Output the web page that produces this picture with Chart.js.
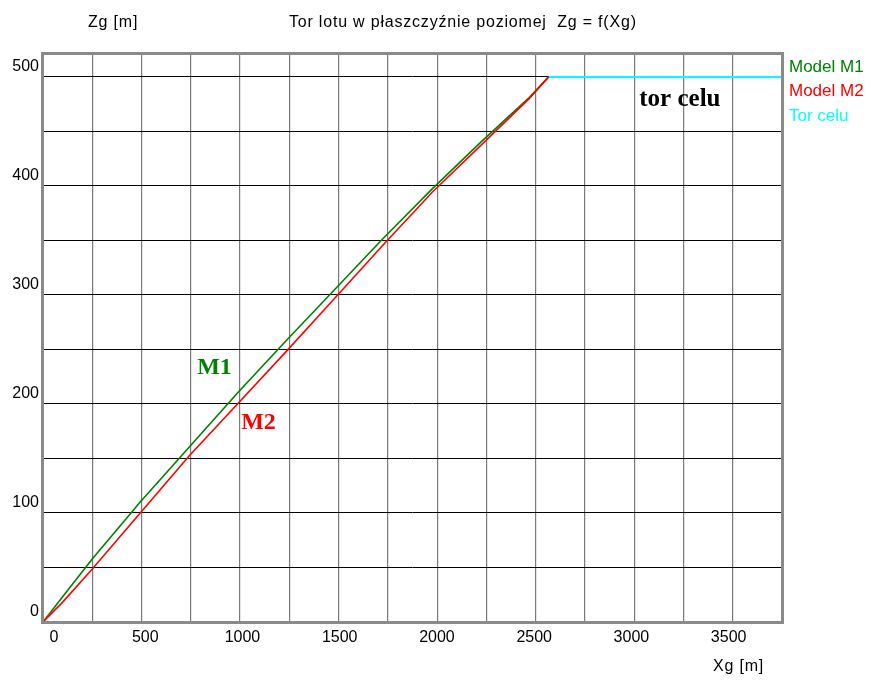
<!DOCTYPE html>
<html>
<head>
<meta charset="utf-8">
<script src="https://cdn.jsdelivr.net/npm/chart.js@4.4.1/dist/chart.umd.min.js"></script>
<style>
  html, body { margin: 0; padding: 0; background: #ffffff; }
  #wrap { width: 871px; height: 680px; }
</style>
</head>
<body>
<div id="wrap"><canvas id="c" width="871" height="680"></canvas></div>
<script>
// ---- data ----
const xTickLabels = [0, 500, 1000, 1500, 2000, 2500, 3000, 3500];
const yTickLabels = [0, 100, 200, 300, 400, 500];
const m1X = [0, 100, 250, 500, 750, 1000, 1250, 1500, 1750, 2000, 2250, 2500, 2600];
const m1Y = [0, 23, 57, 110, 160, 210, 258, 305, 352, 397, 440, 481, 500];
const m2X = [0, 100, 250, 500, 750, 1000, 1250, 1500, 1750, 2000, 2250, 2500, 2600];
const m2Y = [0, 18, 48, 100, 152, 200, 248, 297, 346, 394, 437, 480, 500];
const targetX = [2600, 3800];
const targetY = [500, 500];
const seriesNames = ['Model M1', 'Model M2', 'Tor celu'];
const titleText = 'Tor lotu w płaszczyźnie poziomej  Zg = f(Xg)';
const yAxisTitle = 'Zg [m]';
const xAxisTitle = 'Xg [m]';
const notes = [
  { text: 'tor celu', x: 3275, y: 479, color: '#000000', size: 25 },
  { text: 'M1', x: 882, y: 233, color: '#008000', size: 24 },
  { text: 'M2', x: 1108, y: 182.5, color: '#ff0000', size: 24 }
];

const pts = (xs, ys) => xs.map((x, i) => ({ x: x, y: ys[i] }));

const GREEN = '#008000', RED = '#ff0000', CYAN = '#00ffff';
const SANS = '"Liberation Sans", Arial, sans-serif';
const SERIF = '"Liberation Serif", "Times New Roman", serif';

const decor = {
  id: 'decor',
  afterDatasetsDraw(chart) {
    const ctx = chart.ctx, a = chart.chartArea;
    ctx.save();
    ctx.strokeStyle = '#8a8a8a';
    ctx.lineWidth = 3;
    ctx.strokeRect(a.left - 0.5, a.top - 0.5, a.right - a.left + 1, a.bottom - a.top + 1);
    ctx.restore();
  },
  afterDraw(chart) {
    const ctx = chart.ctx, a = chart.chartArea;
    const xs = chart.scales.x, ys = chart.scales.y;
    ctx.save();
    ctx.fillStyle = '#000';
    ctx.font = '16px ' + SANS;
    ctx.textBaseline = 'middle';
    // x tick labels
    ctx.textAlign = 'center';
    xTickLabels.forEach(v => {
      const px = xs.getPixelForValue(v) + (v === 0 ? 11 : 5);
      ctx.fillText(String(v), px, a.bottom + 16);
    });
    // y tick labels
    ctx.textAlign = 'right';
    yTickLabels.forEach(v => {
      ctx.fillText(String(v), a.left - 4, ys.getPixelForValue(v) - 10);
    });
    // titles
    ctx.textAlign = 'left';
    ctx.letterSpacing = '0.8px';
    ctx.fillText(titleText, 289, 23);
    ctx.fillText(yAxisTitle, 88, 23);
    ctx.fillText(xAxisTitle, 713, 667);
    ctx.letterSpacing = '0px';
    // legend
    ctx.font = '17px ' + SANS;
    const cols = [GREEN, RED, CYAN];
    seriesNames.forEach((n, i) => {
      ctx.fillStyle = cols[i];
      ctx.fillText(n, 789, 67 + i * 24.5);
    });
    // annotations
    notes.forEach(n => {
      ctx.font = 'bold ' + n.size + 'px ' + SERIF;
      ctx.fillStyle = n.color;
      ctx.textAlign = 'center';
      ctx.fillText(n.text, xs.getPixelForValue(n.x), ys.getPixelForValue(n.y));
    });
    ctx.restore();
  }
};

new Chart(document.getElementById('c'), {
  type: 'scatter',
  data: {
    datasets: [
      { label: seriesNames[2], data: pts(targetX, targetY), showLine: true, borderColor: CYAN, borderWidth: 2, pointRadius: 0, order: 3 },
      { label: seriesNames[0], data: pts(m1X, m1Y), showLine: true, borderColor: GREEN, borderWidth: 1.6, pointRadius: 0, order: 2 },
      { label: seriesNames[1], data: pts(m2X, m2Y), showLine: true, borderColor: RED, borderWidth: 1.6, pointRadius: 0, order: 1 }
    ]
  },
  options: {
    responsive: false,
    animation: false,
    devicePixelRatio: 1,
    layout: { padding: { left: 43, right: 89, top: 54, bottom: 58 } },
    plugins: { legend: { display: false }, tooltip: { enabled: false }, title: { display: false } },
    scales: {
      x: {
        type: 'linear', min: 0, max: 3800,
        ticks: { display: false, stepSize: 250 },
        grid: { color: '#7a7a7a', lineWidth: 1.2, drawTicks: false },
        border: { display: false },
        afterFit(s) { s.height = 0; }
      },
      y: {
        type: 'linear', min: 0, max: 521,
        ticks: { display: false, stepSize: 50 },
        grid: { color: '#000000', lineWidth: 1, drawTicks: false },
        border: { display: false },
        afterFit(s) { s.width = 0; }
      }
    }
  },
  plugins: [decor]
});
</script>
</body>
</html>
